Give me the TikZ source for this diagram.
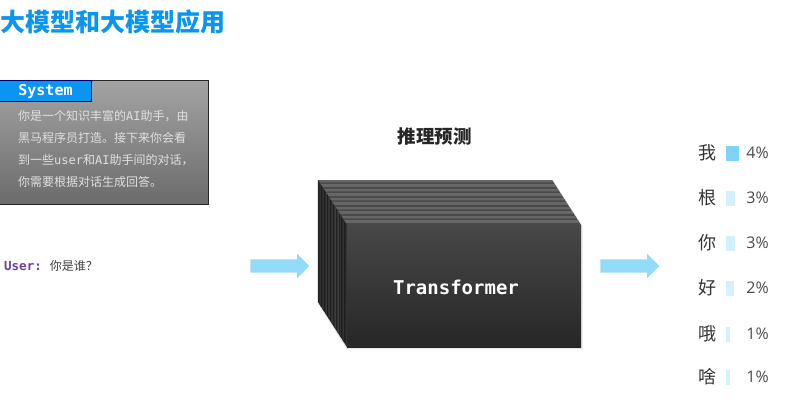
\documentclass[tikz,border=0pt]{standalone}
\usepackage{fontspec}
\setmainfont{Open Sans}
\setmonofont{DejaVu Sans Mono}
\newfontfamily\cjk{Noto Sans CJK SC}
\usetikzlibrary{shapes.arrows}
\definecolor{titleblue}{HTML}{0A95F0}
\definecolor{arrowblue}{HTML}{93DBF9}
\definecolor{barstrong}{HTML}{7DD3F8}
\definecolor{barpale}{HTML}{D2F1FC}
\definecolor{userpurple}{HTML}{6A3FA0}
\begin{document}
\begin{tikzpicture}[x=1pt,y=-1pt]
        \tikzset{
            flow/.style={single arrow,draw=none,fill=arrowblue,text height=13pt,text depth=0pt,
                single arrow head extend=5.5pt,single arrow tip angle=90,
                minimum height=59pt,inner sep=0pt,anchor=center},
            word/.style={font=\cjk\fontsize{18}{18}\selectfont,text=black!80,anchor=center,inner sep=0pt},
            percent/.style={font=\fontsize{16}{16}\selectfont,text=black!70,anchor=center,inner sep=0pt},
            sysline/.style={font=\cjk\fontsize{12}{12}\selectfont,text=black!12,anchor=west,inner sep=0pt}}
        \useasboundingbox (0,0) rectangle (786,416);
        \node[anchor=west,inner sep=0pt,text=titleblue,font=\cjk\bfseries\fontsize{25}{25}\selectfont] (title) at (0,22) {大模型和大模型应用};
        % system box
        \node[draw=black!85,top color=black!36,bottom color=black!58,minimum width=209pt,minimum height=124pt,
            anchor=north west,inner sep=0pt,line width=.8pt] (sysbox) at (-1,80) {};
        \node[draw=blue!45!black,fill=titleblue,minimum width=92pt,minimum height=21pt,
            anchor=north west,inner sep=0pt,line width=.8pt] (syshead) at (-1,80) {};
        \node[inner sep=0pt,text=white,font=\ttfamily\bfseries\fontsize{15}{15}\selectfont] (systitle) at (45.5,91) {System};
        \node[sysline] (line1) at (18,116.5) {你是一个知识丰富的{\ttfamily AI}助手，由};
        \node[sysline] (line2) at (18,138) {黑马程序员打造。接下来你会看};
        \node[sysline] (line3) at (18,160) {到一些{\ttfamily user}和{\ttfamily AI}助手间的对话，};
        \node[sysline] (line4) at (18,182) {你需要根据对话生成回答。};
        \node[anchor=west,inner sep=0pt] (user) at (4,266)
            {\ttfamily\bfseries\fontsize{12.5}{12.5}\selectfont\textcolor{userpurple}{User:}\hspace{8pt}\cjk\mdseries\fontsize{12}{12}\selectfont\textcolor{black!75}{你是谁？}};
        \node[flow] (arrowin) at (276.5,266) {};
        \node[flow] (arrowout) at (626.5,266) {};
        \node[inner sep=0pt,font=\cjk\bfseries\fontsize{18.5}{18.5}\selectfont,text=black!85] (head) at (434.5,137) {推理预测};
        % stack of layers
        \fill[black!10] (317,180) -- (553,180) -- (582.5,226) -- (582.5,349) -- (346.5,349) -- (317,302) -- cycle;
        \foreach \i in {0,...,9}{
            \fill[black!71] (318+\i*2.9,180+\i*4.5) -- ++(234,0) -- ++(2.9,4.5) -- ++(-234,0) -- cycle;
            \fill[black!60] (318+\i*2.9,180+\i*4.5) -- ++(234,0) -- ++(1.45,2.25) -- ++(-234,0) -- cycle;
            \fill[black!88] (318+\i*2.9,180+\i*4.5) -- ++(2.9,4.5) -- ++(0,122) -- ++(-2.9,-4.5) -- cycle;
            \fill[black!80] (319.45+\i*2.9,182.25+\i*4.5) -- ++(1.45,2.25) -- ++(0,122) -- ++(-1.45,-2.25) -- cycle;
        }
        \node[top color=black!72,bottom color=black!85,minimum width=234pt,minimum height=122pt,
            anchor=north west,inner sep=0pt] (front) at (347,225) {};
        \node[inner sep=0pt,text=white,font=\ttfamily\bfseries\fontsize{19}{19}\selectfont] (label) at (456,287) {Transformer};
        % outputs
        \foreach \name/\w/\ypos/\barw/\col/\pct in {a/我/153/13/barstrong/4\%,b/根/198/9/barpale/3\%,c/你/243/9/barpale/3\%,
                d/好/288/8/barpale/2\%,e/哦/334/3.5/barpale/1\%,f/啥/377/3.5/barpale/1\%}{
            \node[word] (word\name) at (707,\ypos) {\w};
            \node[fill=\col,minimum width=\barw pt,minimum height=15pt,inner sep=0pt,anchor=west] (bar\name) at (726,\ypos) {};
            \node[percent] (pct\name) at (757.5,\ypos) {\pct};
        }
\end{tikzpicture}
\end{document}
